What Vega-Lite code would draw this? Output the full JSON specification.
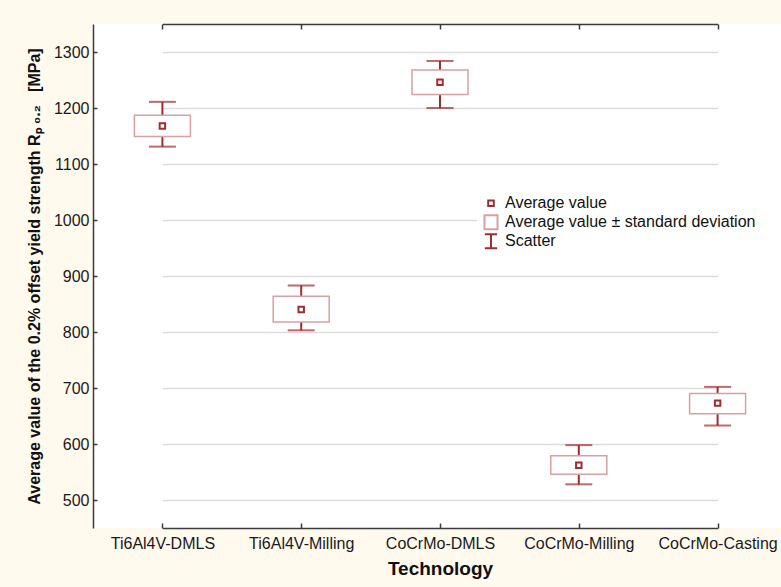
{
  "$schema": "https://vega.github.io/schema/vega-lite/v6.json",
  "width": 688,
  "height": 504,
  "autosize": {"type": "none"},
  "padding": {"left": 93, "top": 24, "right": 0, "bottom": 59},
  "background": "#FFF9EE",
  "data": {
    "values": [
      {"tech": "Ti6Al4V-DMLS", "min": 1131, "lo": 1149, "mean": 1168, "hi": 1187, "max": 1211},
      {"tech": "Ti6Al4V-Milling", "min": 803, "lo": 818, "mean": 840, "hi": 864, "max": 883},
      {"tech": "CoCrMo-DMLS", "min": 1200, "lo": 1224, "mean": 1246, "hi": 1268, "max": 1284},
      {"tech": "CoCrMo-Milling", "min": 528, "lo": 546, "mean": 562, "hi": 579, "max": 598},
      {"tech": "CoCrMo-Casting", "min": 633, "lo": 654, "mean": 673, "hi": 690, "max": 702}
    ]
  },
  "config": {
    "view": {"stroke": null, "fill": "white"},
    "font": "Liberation Sans",
    "axis": {
      "labelFont": "Liberation Sans",
      "labelFontSize": 16,
      "labelColor": "#1a1a1a",
      "titleFont": "Liberation Sans",
      "titleColor": "#111111",
      "titleFontWeight": "bold",
      "domainColor": "#3a3a3a",
      "domainWidth": 1.5,
      "tickColor": "#3a3a3a",
      "tickWidth": 1.5
    },
    "axisY": {
      "grid": true,
      "gridColor": "#dcdcdc",
      "gridWidth": 1.5,
      "tickSize": -4,
      "labelPadding": 8,
      "titleFontSize": 16,
      "titlePadding": 11
    },
    "axisX": {
      "grid": false,
      "labelAngle": 0,
      "tickSize": -5,
      "labelPadding": 12,
      "titleFontSize": 19,
      "titlePadding": 8
    },
    "legend": {
      "labelFont": "Liberation Sans",
      "labelFontSize": 16,
      "labelColor": "#111111",
      "labelLimit": 400,
      "fillColor": "white",
      "padding": 6,
      "rowPadding": 0,
      "clipHeight": 18.5,
      "symbolSize": 196,
      "labelOffset": 6,
      "symbolStrokeWidth": 2
    }
  },
  "layer": [
    {
      "mark": {"type": "rule", "stroke": "#A32A2E", "strokeWidth": 2},
      "encoding": {
        "x": {"field": "tech", "type": "nominal", "sort": null, "scale": {"type": "point", "padding": 0, "range": [69.4, 624.6]}, "axis": {"orient": "bottom", "title": "Technology"}},
        "y": {"field": "min", "type": "quantitative", "scale": {"domain": [450, 1350], "nice": false, "zero": false}, "title": "Average value of the 0.2% offset yield strength Rₚ ₀.₂\u00a0\u00a0\u00a0[MPa]", "axis": {"values": [500, 600, 700, 800, 900, 1000, 1100, 1200, 1300], "format": "d"}},
        "y2": {"field": "max"}
      }
    },
    {
      "mark": {"type": "bar", "size": 56, "fill": "white", "stroke": "#D8A0A2", "strokeWidth": 1.5},
      "encoding": {
        "x": {"field": "tech", "type": "nominal", "sort": null, "scale": {"type": "point", "padding": 0, "range": [69.4, 624.6]}, "axis": {"orient": "top", "labels": false, "title": null}},
        "y": {"field": "lo", "type": "quantitative", "title": "Average value of the 0.2% offset yield strength Rₚ ₀.₂\u00a0\u00a0\u00a0[MPa]", "axis": {"values": [500, 600, 700, 800, 900, 1000, 1100, 1200, 1300], "format": "d"}},
        "y2": {"field": "hi"}
      }
    },
    {
      "mark": {"type": "tick", "orient": "horizontal", "size": 27, "thickness": 2, "color": "#A32A2E"},
      "encoding": {
        "x": {"field": "tech", "type": "nominal", "sort": null, "axis": null},
        "y": {"field": "min", "type": "quantitative", "title": "Average value of the 0.2% offset yield strength Rₚ ₀.₂\u00a0\u00a0\u00a0[MPa]", "axis": {"values": [500, 600, 700, 800, 900, 1000, 1100, 1200, 1300], "format": "d"}}
      }
    },
    {
      "mark": {"type": "tick", "orient": "horizontal", "size": 27, "thickness": 2, "color": "#A32A2E"},
      "encoding": {
        "x": {"field": "tech", "type": "nominal", "sort": null, "axis": null},
        "y": {"field": "max", "type": "quantitative", "title": "Average value of the 0.2% offset yield strength Rₚ ₀.₂\u00a0\u00a0\u00a0[MPa]", "axis": {"values": [500, 600, 700, 800, 900, 1000, 1100, 1200, 1300], "format": "d"}}
      }
    },
    {
      "mark": {"type": "point", "shape": "square", "size": 30, "fill": "white", "stroke": "#A32A2E", "strokeWidth": 2, "opacity": 1},
      "encoding": {
        "x": {"field": "tech", "type": "nominal", "sort": null, "axis": null},
        "y": {"field": "mean", "type": "quantitative", "title": "Average value of the 0.2% offset yield strength Rₚ ₀.₂\u00a0\u00a0\u00a0[MPa]", "axis": {"values": [500, 600, 700, 800, 900, 1000, 1100, 1200, 1300], "format": "d"}}
      }
    },
    {
      "mark": {"type": "point", "filled": false, "strokeOpacity": 0, "fillOpacity": 0},
      "encoding": {
        "x": {"field": "tech", "type": "nominal", "sort": null, "axis": null},
        "y": {"field": "mean", "type": "quantitative", "title": "Average value of the 0.2% offset yield strength Rₚ ₀.₂\u00a0\u00a0\u00a0[MPa]", "axis": {"values": [500, 600, 700, 800, 900, 1000, 1100, 1200, 1300], "format": "d"}},
        "shape": {
          "datum": "Average value",
          "scale": {
            "domain": ["Average value", "Average value ± standard deviation", "Scatter"],
            "range": ["M-0.4,-0.4L0.4,-0.4L0.4,0.4L-0.4,0.4Z", "M-0.93,-1L0.93,-1L0.93,1L-0.93,1Z", "M-0.88,-1L0.88,-1M0,-1L0,1M-0.88,1L0.88,1"]
          },
          "legend": {
            "orient": "none",
            "legendX": 384,
            "legendY": 164,
            "title": null,
            "encode": {
              "symbols": {
                "update": {
                  "opacity": {"value": 1},
                  "strokeOpacity": {"value": 1},
                  "fill": {"value": "transparent"}
                }
              }
            }
          }
        },
        "stroke": {
          "datum": "Average value",
          "scale": {
            "domain": ["Average value", "Average value ± standard deviation", "Scatter"],
            "range": ["#A32A2E", "#D8A0A2", "#A32A2E"]
          },
          "legend": {
            "orient": "none",
            "legendX": 384,
            "legendY": 164,
            "title": null
          }
        }
      }
    }
  ],
  "resolve": {"axis": {"x": "independent"}}
}
